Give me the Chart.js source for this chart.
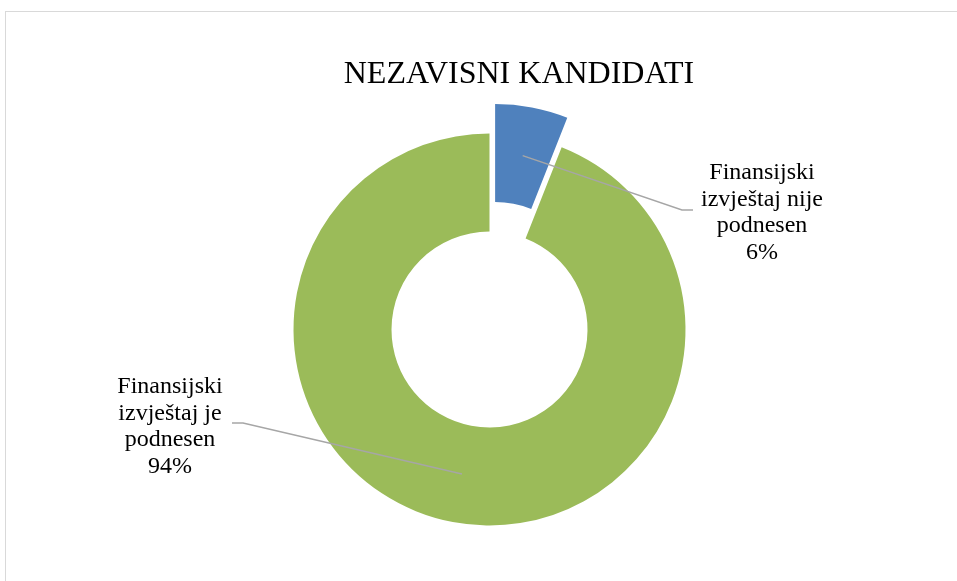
<!DOCTYPE html>
<html>
<head>
<meta charset="utf-8">
<script src="https://cdn.jsdelivr.net/npm/chart.js@4.4.0/dist/chart.umd.min.js"></script>
<style>
    html, body { margin: 0; padding: 0; background: #fff; }
    #wrap { position: relative; width: 957px; height: 581px; overflow: hidden; }
    #frame { position: absolute; left: 5px; top: 11px; width: 1000px; height: 700px; border-left: 1px solid #d9d9d9; border-top: 1px solid #d9d9d9; }
    #title { position: absolute; left: 0; width: 1038px; top: 56px; line-height: 32px; text-align: center; font-family: "Liberation Serif", "Times New Roman", serif; font-size: 32px; color: #000; white-space: nowrap; }
    #chart { position: absolute; left: 0; top: 0; }
</style>
</head>
<body>
<div id="wrap">
    <div id="frame"></div>
    <canvas id="chart" width="957" height="581"></canvas>
    <div id="title">NEZAVISNI KANDIDATI</div>
</div>
<script>
const categories = ["Finansijski izvještaj nije podnesen", "Finansijski izvještaj je podnesen"];
const values = [6, 94];
const labelLines = [
    ["Finansijski", "izvještaj nije", "podnesen", "6%"],
    ["Finansijski", "izvještaj je", "podnesen", "94%"],
];
const colors = ["#4f81bd", "#9bbb59"];
const explode = [30, 0];

// where each data label sits (first baseline) and where its leader line bends
const labelLayout = [
    { x: 762, y: 179, elbow: [682, 210], end: [693, 210] },
    { x: 170, y: 393, elbow: [243, 423], end: [232, 423] },
];

// pull slices straight out along their bisector (pure shift, no resize)
const explodeSlices = {
    id: "explodeSlices",
    afterDatasetsUpdate(chart) {
        chart.getDatasetMeta(0).data.forEach((arc, i) => {
            const d = explode[i] || 0;
            if (!d) return;
            const mid = (arc.startAngle + arc.endAngle) / 2;
            arc.x += Math.cos(mid) * d;
            arc.y += Math.sin(mid) * d;
        });
    },
};

const leaderLabels = {
    id: "leaderLabels",
    afterDatasetsDraw(chart) {
        const ctx = chart.ctx;
        const arcs = chart.getDatasetMeta(0).data;
        arcs.forEach((arc, i) => {
            const mid = (arc.startAngle + arc.endAngle) / 2;
            const r = (arc.innerRadius + arc.outerRadius) / 2;
            const sx = arc.x + Math.cos(mid) * r;
            const sy = arc.y + Math.sin(mid) * r;
            const lay = labelLayout[i];

            ctx.save();
            ctx.strokeStyle = "#a6a6a6";
            ctx.lineWidth = 1.5;
            ctx.beginPath();
            ctx.moveTo(sx, sy);
            ctx.lineTo(lay.elbow[0], lay.elbow[1]);
            ctx.lineTo(lay.end[0], lay.end[1]);
            ctx.stroke();

            ctx.fillStyle = "#000";
            ctx.font = '24px "Liberation Serif", "Times New Roman", serif';
            ctx.textAlign = "center";
            ctx.textBaseline = "alphabetic";
            labelLines[i].forEach((line, k) => {
                ctx.fillText(line, lay.x, lay.y + k * 26.5);
            });
            ctx.restore();
        });
    },
};

new Chart(document.getElementById("chart"), {
    type: "doughnut",
    data: {
        labels: categories,
        datasets: [
            {
                data: values,
                backgroundColor: colors,
                borderWidth: 0,
            },
        ],
    },
    options: {
        responsive: false,
        animation: false,
        radius: 196,
        cutout: "50%",
        layout: { padding: { left: 22, right: 0, top: 78, bottom: 0 } },
        plugins: {
            legend: { display: false },
            title: { display: false },
            tooltip: { enabled: false },
        },
    },
    plugins: [explodeSlices, leaderLabels],
});
</script>
</body>
</html>
